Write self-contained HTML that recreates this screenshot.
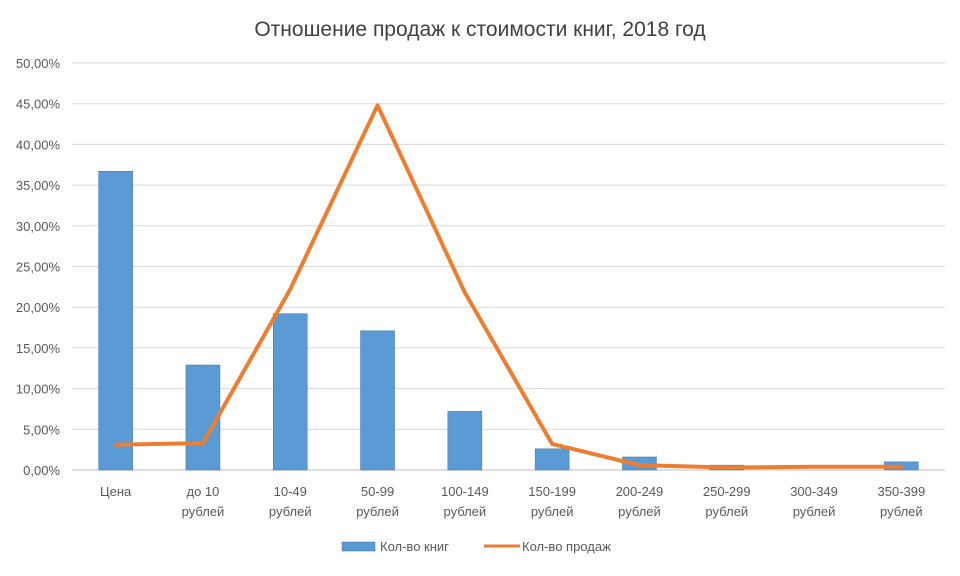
<!DOCTYPE html>
<html><head><meta charset="utf-8"><style>
body{margin:0;background:#fff;font-family:"Liberation Sans",sans-serif}
svg text{font-family:"Liberation Sans",sans-serif;fill:#595959}
</style></head><body>
<svg id="chart" width="960" height="571">
<text x="480" y="36" text-anchor="middle" font-size="21" style="fill:#404040">Отношение продаж к стоимости книг, 2018 год</text>
<g id="grid"></g><g id="bars"></g><g id="line"></g><g id="xlabels"></g>
<g>
<rect x="342" y="542" width="33" height="9" fill="#5b9bd5" stroke="#41719c" stroke-width="0.5"/>
<text x="380" y="551" font-size="13">Кол-во книг</text>
<line x1="484" y1="546" x2="520" y2="546" stroke="#ed7d31" stroke-width="3"/>
<text x="522" y="551" font-size="13">Кол-во продаж</text>
</g>
</svg>
<script>
const categories=["Цена","до 10|рублей","10-49|рублей","50-99|рублей","100-149|рублей","150-199|рублей","200-249|рублей","250-299|рублей","300-349|рублей","350-399|рублей"];
const books=[36.7,12.9,19.2,17.1,7.2,2.6,1.6,0.6,0,1.0];
const sales=[3.1,3.3,22.2,44.8,21.8,3.2,0.6,0.3,0.4,0.4];
const ticks=[0,5,10,15,20,25,30,35,40,45,50];
const NS="http://www.w3.org/2000/svg";
const L=72,R=945,T=63,B=470,step=(R-L)/categories.length;
const y=v=>B-(v/50)*(B-T);
const x=i=>L+step*(i+0.5);
function mk(t,a,p){const e=document.createElementNS(NS,t);for(const k in a)e.setAttribute(k,a[k]);p.appendChild(e);return e;}
const g=document.getElementById('grid');
ticks.forEach(t=>{
 const l=mk('line',{x1:L,x2:R,y1:y(t),y2:y(t),stroke:t===0?'#bfbfbf':'#d9d9d9','stroke-width':1},g);
 
 
 const tx=mk('text',{x:60,y:y(t)+5,'text-anchor':'end','font-size':13},g);
 tx.textContent=t.toFixed(2).replace('.',',')+'%';
 
 
});
const bg=document.getElementById('bars');
books.forEach((v,i)=>{
 const r=mk('rect',{x:x(i)-17,y:y(v),width:34,height:B-y(v),fill:'#5b9bd5',stroke:'#41719c','stroke-width':0.5},bg);
 
 
});
const p=mk('polyline',{points:sales.map((v,i)=>x(i)+','+y(v)).join(' '),fill:'none',stroke:'#ed7d31','stroke-width':4,'stroke-linejoin':'round','stroke-linecap':'round'},document.getElementById('line'));


const xl=document.getElementById('xlabels');
categories.forEach((c,i)=>{
 c.split('|').forEach((s,j)=>{
  const t=mk('text',{x:x(i),y:496+j*20,'text-anchor':'middle','font-size':13},xl);
  t.textContent=s;
  
  
 });
});
</script>
</body></html>
